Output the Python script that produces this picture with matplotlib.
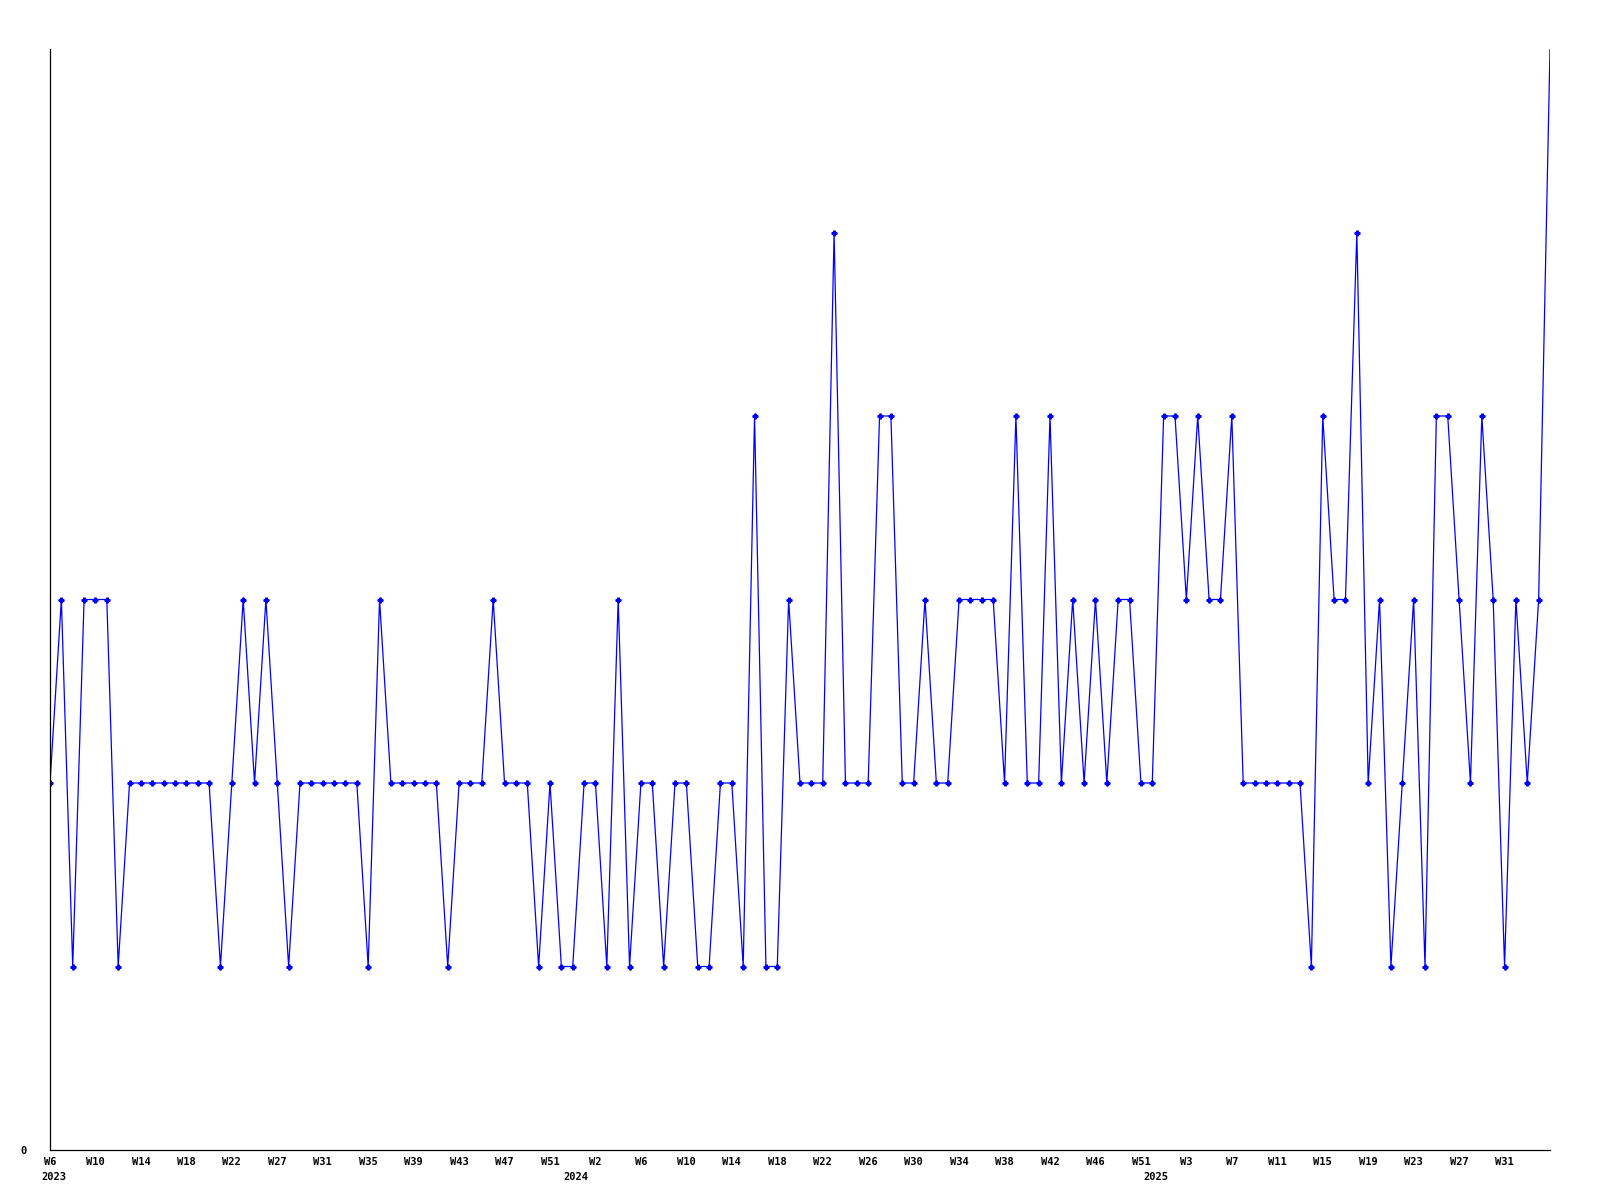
import matplotlib
matplotlib.use("Agg")
import matplotlib.pyplot as plt
import matplotlib.transforms as mtransforms

# weekly values, starting 2023 W6
values = [2, 3, 1, 3, 3, 3, 1, 2, 2, 2, 2, 2, 2, 2, 2, 1,
          2, 3, 2, 3, 2, 1, 2, 2, 2, 2, 2, 2, 1, 3, 2, 2,
          2, 2, 2, 1, 2, 2, 2, 3, 2, 2, 2, 1, 2, 1, 1, 2,
          2, 1, 3, 1, 2, 2, 1, 2, 2, 1, 1, 2, 2, 1, 4, 1,
          1, 3, 2, 2, 2, 5, 2, 2, 2, 4, 4, 2, 2, 3, 2, 2,
          3, 3, 3, 3, 2, 4, 2, 2, 4, 2, 3, 2, 3, 2, 3, 3,
          2, 2, 4, 4, 3, 4, 3, 3, 4, 2, 2, 2, 2, 2, 2, 1,
          4, 3, 3, 5, 2, 3, 1, 2, 3, 1, 4, 4, 3, 2, 4, 3,
          1, 3, 2, 3, 6]

# label every 4th week
week_labels = ["W6", "W10", "W14", "W18", "W22", "W27", "W31", "W35",
               "W39", "W43", "W47", "W51", "W2", "W6", "W10", "W14",
               "W18", "W22", "W26", "W30", "W34", "W38", "W42", "W46",
               "W51", "W3", "W7", "W11", "W15", "W19", "W23", "W27", "W31"]
years = ["2023", "2024", "2025"]
year_pos = [0.3, 46.3, 97.3]

x = list(range(len(values)))

fig = plt.figure(figsize=(16, 12), dpi=100)
ax = fig.add_axes([50 / 1600, 50 / 1200, 1500 / 1600, 1101 / 1200])

ax.plot(x, values, color="#0000ff", lw=0.9, marker="P", ms=3.5,
        markevery=slice(0, len(values) - 1))

ax.set_xlim(0, len(values) - 1)
ax.set_ylim(0, 6)

font = dict(family="DejaVu Sans Mono", weight="bold", size=7.5)
ax.set_xticks(x[:len(week_labels) * 4:4])
ax.set_xticklabels(week_labels, **font)
ax.set_yticks([0])
ax.set_yticklabels(["0"], **font)
ax.tick_params(axis="x", length=0, pad=5)
ax.tick_params(axis="y", length=0, pad=17)

trans = mtransforms.blended_transform_factory(ax.transData, ax.transAxes)
for yr, p in zip(years, year_pos):
    ax.text(p, -0.0245, yr, transform=trans, ha="center", va="center",
            **font)

ax.spines["top"].set_visible(False)
ax.spines["right"].set_visible(False)
ax.spines["left"].set_linewidth(0.9)
ax.spines["bottom"].set_linewidth(0.9)

fig.savefig("out.png", dpi=100)
